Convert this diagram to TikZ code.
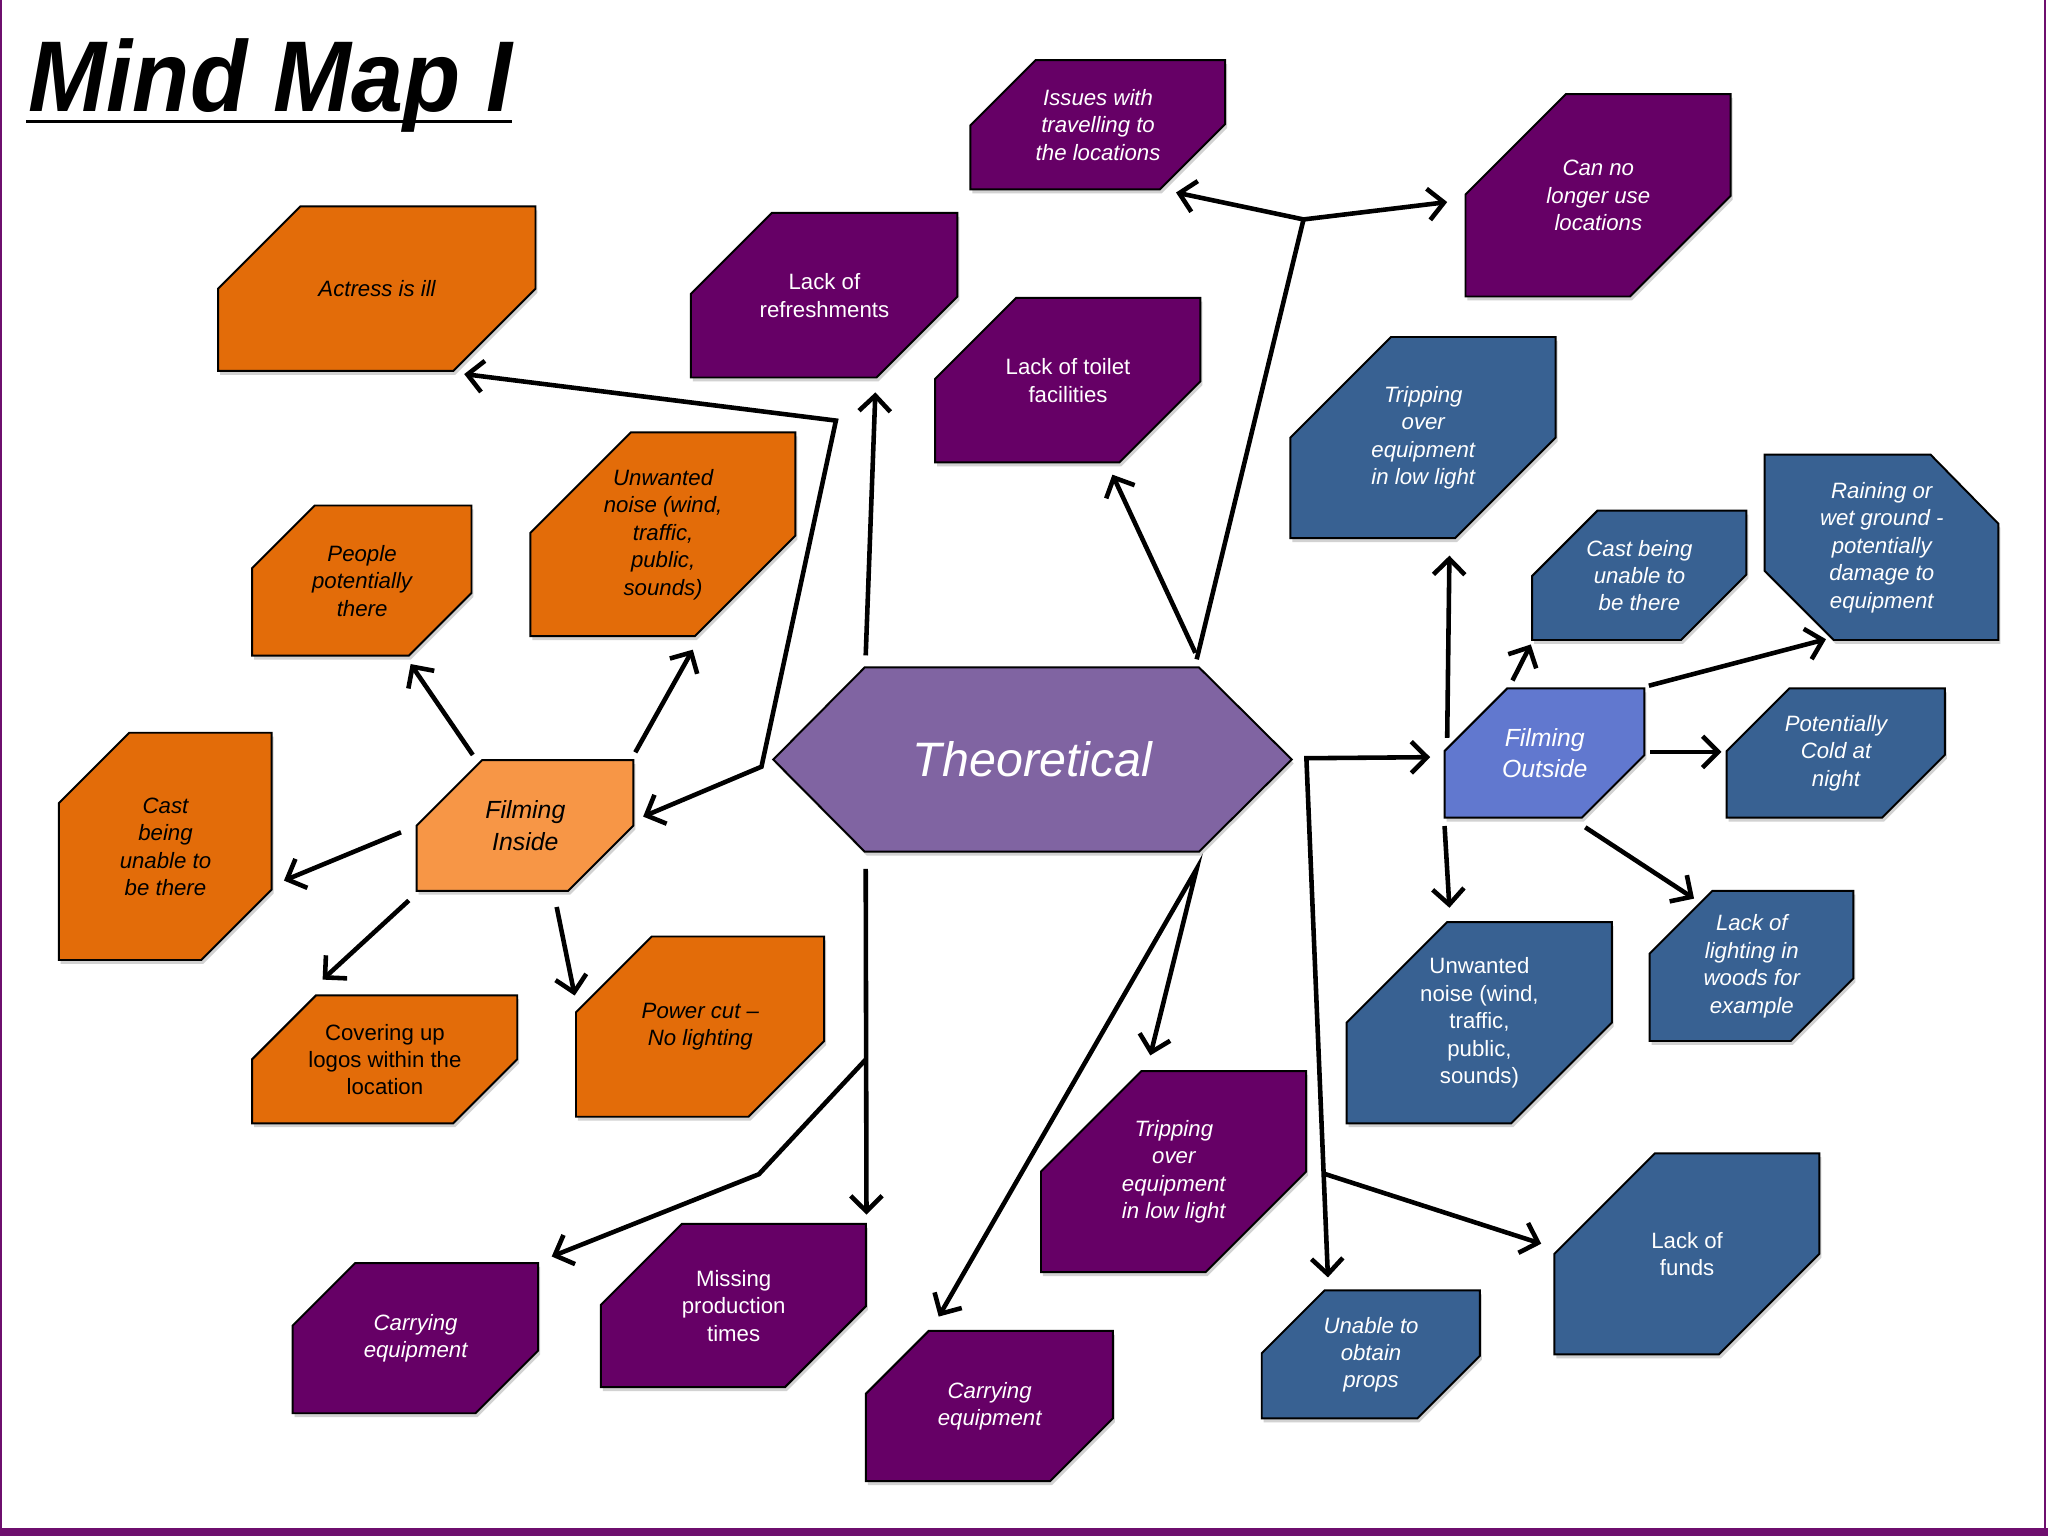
\documentclass[tikz,border=0pt]{standalone}
\usepackage{fontspec}
\setmainfont{Liberation Sans}
\newfontfamily\titlefont[FakeStretch=0.93]{Liberation Sans}
\usetikzlibrary{arrows.meta,calc,shadows}

\definecolor{boxorange}{HTML}{E36C09}
\definecolor{lightorange}{HTML}{F79646}
\definecolor{boxpurple}{HTML}{660066}
\definecolor{boxblue}{HTML}{386192}
\definecolor{outblue}{HTML}{6178CF}
\definecolor{theopurple}{HTML}{8064A2}
\definecolor{framepurple}{HTML}{6E0F6E}

\tikzset{boxtext/.style={font=\fontsize{17}{21}\selectfont, align=center},
         ital/.style={font=\fontsize{17}{21}\selectfont\itshape},
         bigital/.style={font=\fontsize{19}{24}\selectfont\itshape},
         orangebox/.style={boxtext, fill=boxorange, text=black},
         purplebox/.style={boxtext, fill=boxpurple, text=white},
         bluebox/.style={boxtext, fill=boxblue, text=white},
         boxshadow/.style={drop shadow={shadow xshift=1.5pt, shadow yshift=-3pt, opacity=.25, fill=black!70}},
         arr/.style={line width=3.5pt, -{Straight Barb[length=12pt,width=24pt]}},
         arrs/.style={line width=3.5pt, {Straight Barb[length=12pt,width=24pt]}-{Straight Barb[length=12pt,width=24pt]}}}

% name, left, top, width, height, cut, style, text
\newcommand\snipbox[8]{%
  \fill[#7, draw=black, line width=1.5pt, boxshadow]
    ({#2+#6},#3) -- ({#2+#4},#3) -- ({#2+#4},{#3+#5-#6}) -- ({#2+#4-#6},{#3+#5})
    -- (#2,{#3+#5}) -- (#2,{#3+#6}) -- cycle;
  \node[#7, fill=none, minimum width=#4, minimum height=#5, anchor=north west] (#1) at (#2,#3) {#8};
}

\begin{document}
\begin{tikzpicture}[x=1pt,y=-1pt]
  \useasboundingbox (0,0) rectangle (1568,1176);
  \fill[white] (0,0) rectangle (1568,1176);
  \draw[framepurple, line width=1.5pt] (1,0) -- (1,1176) (1566,0) -- (1566,1176);
  \fill[framepurple] (0,1170) rectangle (1568,1176);

  \node[anchor=base west, inner sep=0pt, font=\titlefont\bfseries\itshape\fontsize{77}{80}\selectfont] (title) at (22,85) {Mind Map I};
  \draw[line width=3pt] ($(title.base west)+(-2,8)$) -- ($(title.base east)+(0,8)$);

  % centre
  \fill[theopurple, draw=black, line width=1.5pt, boxshadow] (592,581.5) -- (662,511) -- (918,511) -- (989,581.5) -- (918,652) -- (662,652) -- cycle;
  \node[text=white, font=\fontsize{37}{44}\selectfont\itshape, minimum width=397, minimum height=141] (theo) at (790.5,581.5) {Theoretical};

  % theoretical branch
  \snipbox{actress}{167}{158}{243}{126}{63}{orangebox,ital}{Actress is ill}
  \snipbox{refresh}{529}{163}{204}{126}{62}{purplebox}{Lack of\\refreshments}
  \snipbox{travel}{743}{46}{195}{99}{50}{purplebox,ital}{Issues with\\travelling to\\the locations}
  \snipbox{nolonger}{1122}{72}{203}{155}{77}{purplebox,ital}{Can no\\longer use\\locations}
  \snipbox{toilet}{716}{228}{203}{126}{62}{purplebox}{Lack of toilet\\facilities}
  \snipbox{trip}{797}{820}{203}{154}{77}{purplebox,ital}{Tripping\\over\\equipment\\in low light}
  \snipbox{carrytheo}{663}{1019}{189}{115}{48}{purplebox,ital}{Carrying\\equipment}
  \snipbox{missing}{460}{937}{203}{125}{62}{purplebox}{Missing\\production\\times}
  \snipbox{carrying}{224}{967}{188}{115}{48}{purplebox,ital}{Carrying\\equipment}
  \snipbox{props}{966}{988}{167}{98}{48}{bluebox,ital}{Unable to\\obtain\\props}
  \snipbox{funds}{1190}{883}{203}{154}{77}{bluebox}{Lack of\\funds}

  % filming inside
  \snipbox{inside}{319}{582}{166}{100}{50}{orangebox,bigital,fill=lightorange}{Filming\\Inside}
  \snipbox{people}{193}{387}{168}{115}{48}{orangebox,ital}{People\\potentially\\there}
  \snipbox{noisein}{406}{331}{203}{156}{77}{orangebox,ital}{Unwanted\\noise (wind,\\traffic,\\public,\\sounds)}
  \snipbox{castin}{45}{561}{163}{174}{54}{orangebox,ital}{Cast\\being\\unable to\\be there}
  \snipbox{logos}{193}{762}{203}{98}{49}{orangebox}{Covering up\\logos within the\\location}
  \snipbox{power}{441}{717}{190}{138}{58}{orangebox,ital}{Power cut --\\No lighting}

  % filming outside
  \snipbox{outside}{1106}{527}{153}{99}{48}{bluebox,bigital,fill=outblue}{Filming\\Outside}
  \snipbox{tripout}{988}{258}{203}{154}{77}{bluebox,ital}{Tripping\\over\\equipment\\in low light}
  \snipbox{castout}{1173}{391}{164}{99}{50}{bluebox,ital}{Cast being\\unable to\\be there}
  \fill[boxblue, draw=black, line width=1.5pt, boxshadow] (1351,348) -- (1478,348) -- (1530,401) -- (1530,490) -- (1404,490) -- (1351,437) -- cycle;
  \node[bluebox, ital, fill=none, minimum width=179, minimum height=142, anchor=north west] (rain) at (1351,348) {Raining or\\wet ground -\\potentially\\damage to\\equipment};
  \snipbox{cold}{1322}{527}{167}{99}{48}{bluebox,ital}{Potentially\\Cold at\\night}
  \snipbox{noiseout}{1031}{706}{203}{154}{77}{bluebox}{Unwanted\\noise (wind,\\traffic,\\public,\\sounds)}
  \snipbox{woods}{1263}{682}{156}{115}{48}{bluebox,ital}{Lack of\\lighting in\\woods for\\example}

  % connectors from the centre
  \draw[arr] ($(theo.north west)+(71,-9)$) -- ($(refresh.south)+(39,11)$);
  \draw[arrs] ($(inside.east)+(7,-7)$) -- (583,587) -- (640,322) -- ($(actress.south east)+(-55,2)$);
  \coordinate (fork) at (998,168);
  \draw[line width=3.5pt] ($(theo.north east)+(-73,-6)$) -- (fork);
  \draw[arrs] ($(travel.south east)+(-38,2)$) -- (fork) -- ($(nolonger.west)+(-14,5)$);
  \draw[arr] ($(theo.north east)+(-74,-11)$) -- ($(toilet.south)+(34,9)$);

  \coordinate (rcorner) at ($(theo.east)+(11,-1)$);
  \coordinate (pend) at ($(props.north)+(-33,-10)$);
  \draw[arrs] ($(outside.west)+(-11,3)$) -- (rcorner) -- (pend);
  \draw[arr] ($(rcorner)!.8!(pend)$) -- ($(funds.west)+(-10,-8)$);

  \coordinate (bstart) at ($(theo.south west)+(71,13)$);
  \coordinate (mend) at ($(missing.north east)+(0,-7)$);
  \draw[arr] (bstart) -- (mend);
  \draw[arr] ($(bstart)!.55!(mend)$) -- (581,899) -- ($(carrying.north east)+(10,-5)$);
  \draw[arrs] ($(trip.north)+(-18,-12)$) -- ($(theo.south east)+(-73,13)$) -- ($(carrytheo.north)+(-39,-11)$);

  % inside
  \draw[arr] ($(inside.north west)+(43,-4)$) -- ($(people.south east)+(-47,6)$);
  \draw[arr] ($(inside.north east)+(1,-6)$) -- ($(noisein.south east)+(-79,10)$);
  \draw[arr] ($(inside.west)+(-12,5)$) -- ($(castin.east)+(9,26)$);
  \draw[arr] ($(inside.south west)+(-6,7)$) -- ($(logos.north west)+(54,-12)$);
  \draw[arr] ($(inside.south)+(24,12)$) -- ($(power.west)+(-1,-24)$);

  % outside
  \draw[arr] ($(outside.north west)+(2,38)$) -- ($(tripout.south)+(20,13)$);
  \draw[arr] ($(outside.north west)+(52,-6)$) -- ($(castout.south west)+(-1,3)$);
  \draw[arr] ($(outside.north east)+(3,-2)$) -- ($(rain.south west)+(47,-1)$);
  \draw[arr] ($(outside.east)+(4,-1)$) -- ($(cold.west)+(-4,-1)$);
  \draw[arr] ($(outside.south west)+(0,6)$) -- ($(noiseout.north)+(-23,-11)$);
  \draw[arr] ($(outside.south)+(31,7)$) -- ($(woods.north west)+(34,6)$);
\end{tikzpicture}
\end{document}
